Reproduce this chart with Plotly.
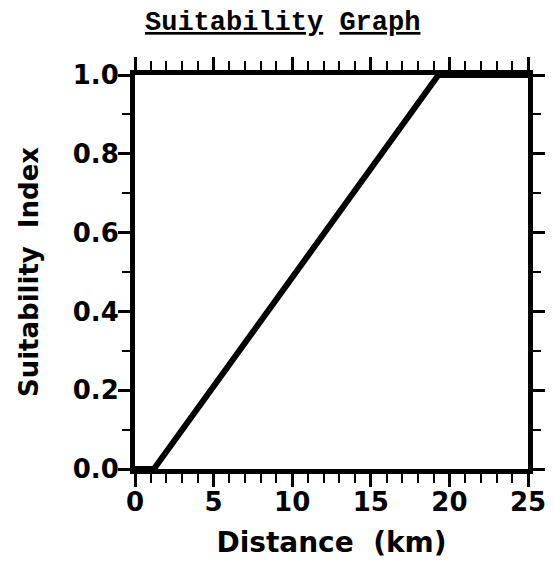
import plotly.graph_objects as go

# Suitability curve
distance_km = [0, 1.2, 19.3, 25]
suitability = [0.0, 0.0, 1.0, 1.0]

x_ticks = [0, 5, 10, 15, 20, 25]
y_ticks = [0.0, 0.2, 0.4, 0.6, 0.8, 1.0]
y_tick_labels = ["0.0", "0.2", "0.4", "0.6", "0.8", "1.0"]

fig = go.Figure()
fig.add_trace(go.Scatter(
    x=distance_km, y=suitability, mode="lines",
    line=dict(color="black", width=6), showlegend=False,
))

axis_font = dict(family="DejaVu Sans", size=26, color="black", weight="bold")

# page body has an 8px default margin, so the margins below are shifted by that
fig.update_layout(
    width=555, height=569,
    margin=dict(l=127, r=35, t=67, b=108),
    paper_bgcolor="white", plot_bgcolor="white",
    title=dict(
        text="<u>Suitability</u> <u>Graph</u>",
        x=0.495, xanchor="center", y=0.978, yanchor="middle",
        font=dict(family="Liberation Mono", size=27, color="black", weight="bold"),
    ),
    xaxis=dict(
        range=[0, 25], tickvals=x_ticks, ticktext=[str(v) for v in x_ticks],
        showgrid=False, zeroline=False,
        showline=True, linecolor="black", linewidth=5, mirror="allticks",
        ticks="outside", ticklen=13, tickwidth=3, tickcolor="black",
        minor=dict(dtick=1, ticks="outside", ticklen=9, tickwidth=2, tickcolor="black"),
        tickfont=axis_font, ticklabelstandoff=-7,
        title=dict(text="Distance  (km)", standoff=18,
                   font=dict(family="DejaVu Sans", size=28, color="black", weight="bold")),
    ),
    yaxis=dict(
        range=[0, 1.0], tickvals=y_ticks, ticktext=y_tick_labels,
        showgrid=False, zeroline=False,
        showline=True, linecolor="black", linewidth=5, mirror="allticks",
        ticks="outside", ticklen=12, tickwidth=3, tickcolor="black",
        minor=dict(dtick=0.1, ticks="outside", ticklen=8, tickwidth=2, tickcolor="black"),
        tickfont=axis_font, ticklabelstandoff=-6,
        title=dict(text="Suitability  Index", standoff=28,
                   font=dict(family="DejaVu Sans", size=26, color="black", weight="bold")),
    ),
)

fig.write_html("out.html")
